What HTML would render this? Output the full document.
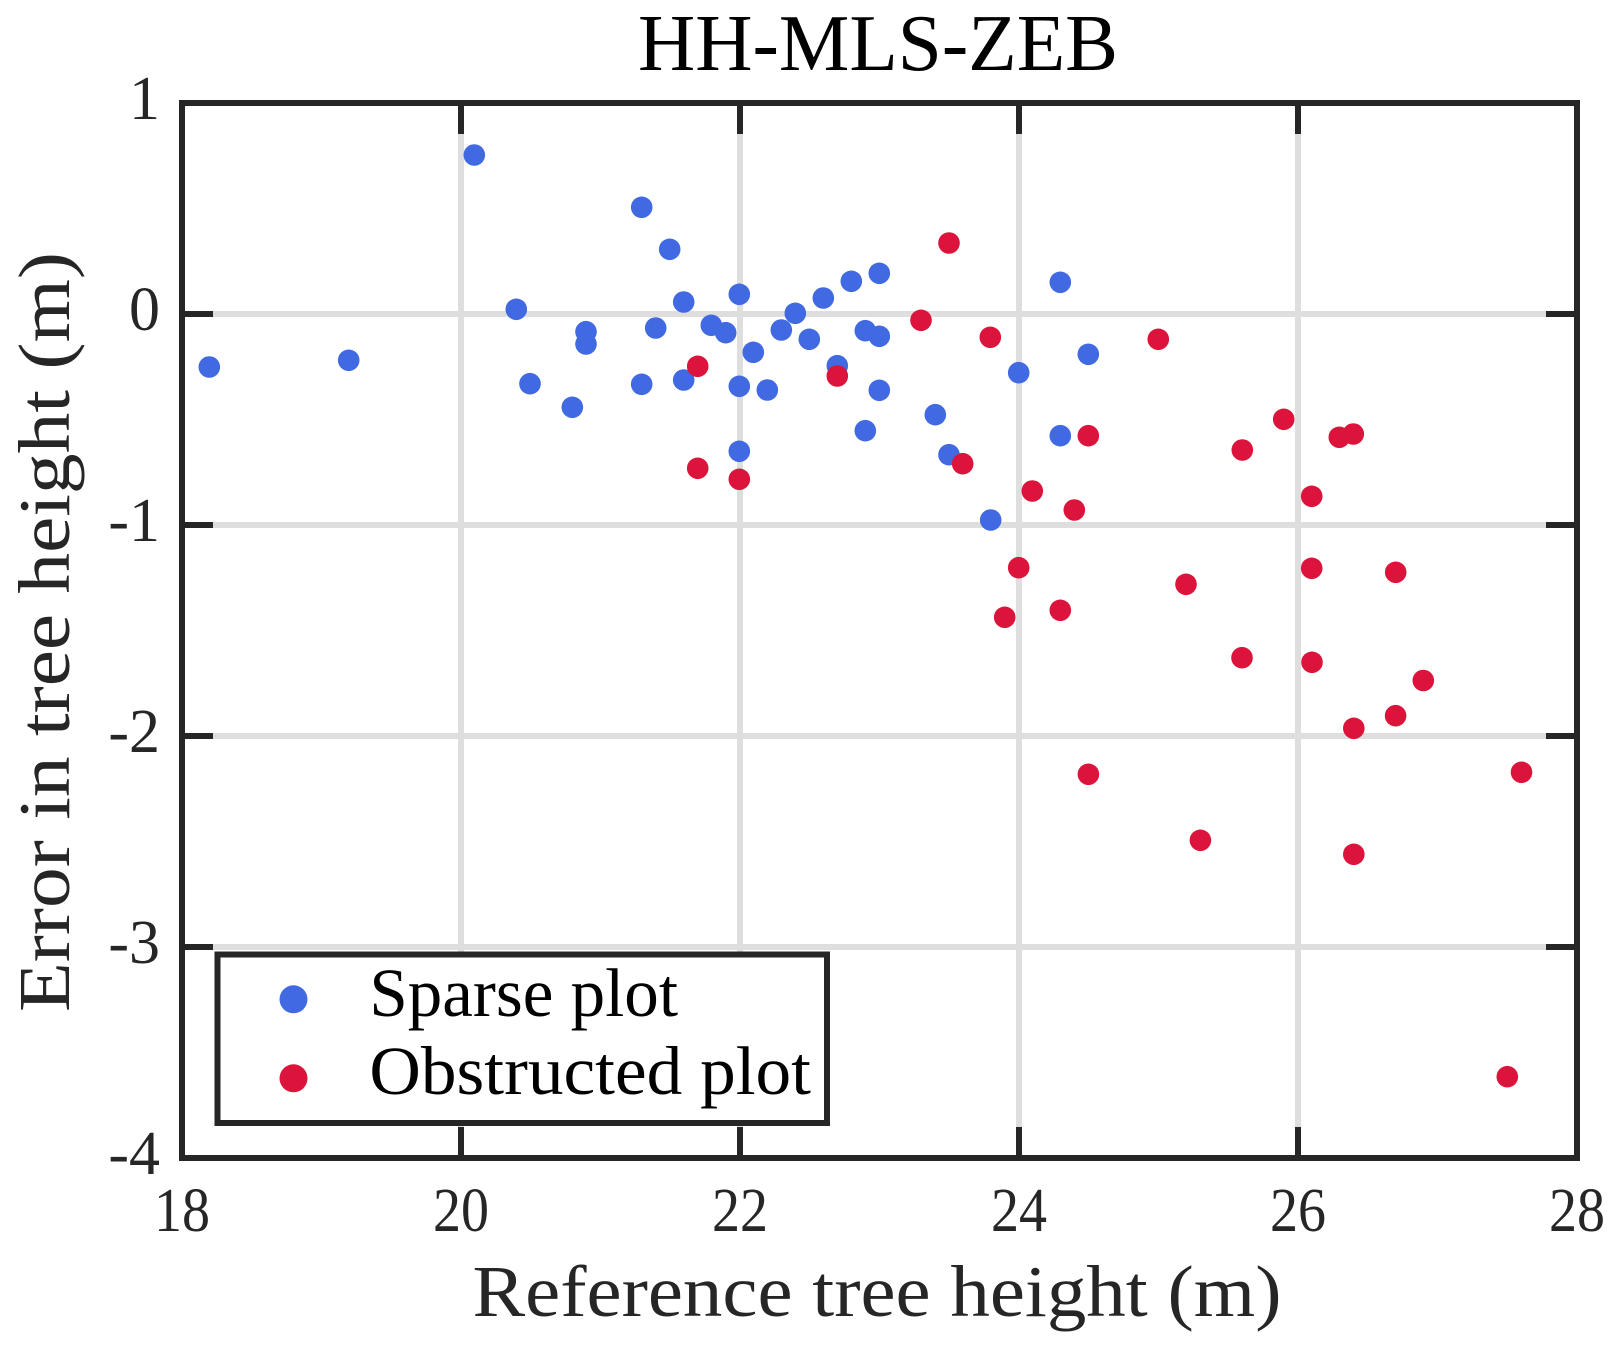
<!DOCTYPE html>
<html>
<head>
<meta charset="utf-8">
<style>
html,body{margin:0;padding:0;background:#fff;}
svg{display:block;}
text{font-family:"Liberation Serif","DejaVu Serif",serif;fill:#262626;}
</style>
</head>
<body>
<svg width="1618" height="1350" viewBox="0 0 1618 1350" xmlns="http://www.w3.org/2000/svg">
<rect x="0" y="0" width="1618" height="1350" fill="#fff"/>
<!-- grid -->
<g stroke="#dedede" stroke-width="6">
<line x1="461" y1="103" x2="461" y2="1158"/>
<line x1="740" y1="103" x2="740" y2="1158"/>
<line x1="1019" y1="103" x2="1019" y2="1158"/>
<line x1="1298" y1="103" x2="1298" y2="1158"/>
<line x1="182" y1="314" x2="1577" y2="314"/>
<line x1="182" y1="525" x2="1577" y2="525"/>
<line x1="182" y1="736" x2="1577" y2="736"/>
<line x1="182" y1="947" x2="1577" y2="947"/>
</g>
<!-- ticks -->
<g stroke="#262626" stroke-width="6">
<line x1="461" y1="103" x2="461" y2="134"/><line x1="740" y1="103" x2="740" y2="134"/><line x1="1019" y1="103" x2="1019" y2="134"/><line x1="1298" y1="103" x2="1298" y2="134"/>
<line x1="461" y1="1158" x2="461" y2="1127"/><line x1="740" y1="1158" x2="740" y2="1127"/><line x1="1019" y1="1158" x2="1019" y2="1127"/><line x1="1298" y1="1158" x2="1298" y2="1127"/>
<line x1="182" y1="314" x2="213" y2="314"/><line x1="182" y1="525" x2="213" y2="525"/><line x1="182" y1="736" x2="213" y2="736"/><line x1="182" y1="947" x2="213" y2="947"/>
<line x1="1577" y1="314" x2="1546" y2="314"/><line x1="1577" y1="525" x2="1546" y2="525"/><line x1="1577" y1="736" x2="1546" y2="736"/><line x1="1577" y1="947" x2="1546" y2="947"/>
</g>
<!-- blue -->
<g fill="#4169e1">
<circle cx="209.3" cy="367" r="10.8"/><circle cx="348.7" cy="360.3" r="10.8"/><circle cx="474.3" cy="155" r="10.8"/><circle cx="516.3" cy="309.3" r="10.8"/>
<circle cx="586" cy="331.7" r="10.8"/><circle cx="586" cy="344" r="10.8"/><circle cx="530" cy="383.7" r="10.8"/><circle cx="572.3" cy="407.3" r="10.8"/>
<circle cx="641.7" cy="207.3" r="10.8"/><circle cx="669.7" cy="249.3" r="10.8"/><circle cx="683.7" cy="302" r="10.8"/><circle cx="739.3" cy="294.3" r="10.8"/>
<circle cx="655.7" cy="328" r="10.8"/><circle cx="711.3" cy="325.3" r="10.8"/><circle cx="725.7" cy="332.7" r="10.8"/><circle cx="753.3" cy="352.3" r="10.8"/>
<circle cx="781.3" cy="330" r="10.8"/><circle cx="795.3" cy="313.3" r="10.8"/><circle cx="809.3" cy="339.3" r="10.8"/><circle cx="823.3" cy="298" r="10.8"/>
<circle cx="851.3" cy="281.3" r="10.8"/><circle cx="879.3" cy="273.3" r="10.8"/><circle cx="865.3" cy="330.7" r="10.8"/><circle cx="879.3" cy="336.3" r="10.8"/>
<circle cx="837.3" cy="365.7" r="10.8"/><circle cx="641.7" cy="384.3" r="10.8"/><circle cx="683.7" cy="380" r="10.8"/><circle cx="739.3" cy="386.3" r="10.8"/>
<circle cx="767.3" cy="390" r="10.8"/><circle cx="879.3" cy="390.3" r="10.8"/><circle cx="935.3" cy="414.7" r="10.8"/><circle cx="865.3" cy="430.7" r="10.8"/>
<circle cx="949" cy="454.7" r="10.8"/><circle cx="739.3" cy="451.3" r="10.8"/>
<circle cx="1060.3" cy="282.3" r="10.8"/><circle cx="1088.3" cy="354.3" r="10.8"/><circle cx="1018.7" cy="372.7" r="10.8"/><circle cx="1060.3" cy="435.7" r="10.8"/><circle cx="990.7" cy="520" r="10.8"/>
</g>
<!-- red -->
<g fill="#dc143c">
<circle cx="697.7" cy="366.3" r="10.8"/><circle cx="837.3" cy="376" r="10.8"/><circle cx="697.7" cy="468.3" r="10.8"/><circle cx="739.3" cy="479.3" r="10.8"/>
<circle cx="962.7" cy="463.7" r="10.8"/><circle cx="949" cy="243" r="10.8"/><circle cx="921" cy="320.3" r="10.8"/><circle cx="990.3" cy="337.3" r="10.8"/>
<circle cx="1158.3" cy="339.3" r="10.8"/><circle cx="1088.3" cy="435.7" r="10.8"/><circle cx="1032.3" cy="491" r="10.8"/><circle cx="1074.3" cy="510" r="10.8"/>
<circle cx="1283.7" cy="419.3" r="10.8"/><circle cx="1242.3" cy="450" r="10.8"/><circle cx="1339.3" cy="437.3" r="10.8"/><circle cx="1353.3" cy="434" r="10.8"/>
<circle cx="1311.7" cy="496.3" r="10.8"/><circle cx="1018.7" cy="567.7" r="10.8"/><circle cx="1186" cy="584.3" r="10.8"/><circle cx="1311.7" cy="568.3" r="10.8"/>
<circle cx="1004.7" cy="617.3" r="10.8"/><circle cx="1060.3" cy="610.3" r="10.8"/>
<circle cx="1395.7" cy="572.3" r="10.8"/><circle cx="1242" cy="657.7" r="10.8"/><circle cx="1312" cy="662.3" r="10.8"/><circle cx="1423.3" cy="680.5" r="10.8"/>
<circle cx="1395.6" cy="715.7" r="10.8"/><circle cx="1353.8" cy="728.3" r="10.8"/><circle cx="1088.4" cy="774.3" r="10.8"/><circle cx="1521.5" cy="772.3" r="10.8"/>
<circle cx="1200.4" cy="840.3" r="10.8"/><circle cx="1353.8" cy="854.3" r="10.8"/><circle cx="1507.3" cy="1076.7" r="10.8"/>
</g>
<!-- axes box -->
<rect x="182" y="103" width="1395" height="1055" fill="none" stroke="#262626" stroke-width="6"/>
<!-- legend -->
<rect x="217.5" y="954.5" width="609.5" height="168.5" fill="#fff" stroke="#262626" stroke-width="6"/>
<circle cx="293.5" cy="999.3" r="14" fill="#4169e1"/>
<circle cx="293.5" cy="1078.3" r="14" fill="#dc143c"/>
<text x="369.4" y="1016" font-size="69" textLength="308.6" lengthAdjust="spacingAndGlyphs" style="fill:#000">Sparse plot</text>
<text x="369.4" y="1094" font-size="69" textLength="441.6" lengthAdjust="spacingAndGlyphs" style="fill:#000">Obstructed plot</text>
<!-- x tick labels -->
<g font-size="62" text-anchor="middle">
<text x="182" y="1231" textLength="56" lengthAdjust="spacingAndGlyphs">18</text>
<text x="461" y="1231" textLength="56" lengthAdjust="spacingAndGlyphs">20</text>
<text x="740" y="1231" textLength="56" lengthAdjust="spacingAndGlyphs">22</text>
<text x="1019" y="1231" textLength="56" lengthAdjust="spacingAndGlyphs">24</text>
<text x="1298" y="1231" textLength="56" lengthAdjust="spacingAndGlyphs">26</text>
<text x="1577" y="1231" textLength="56" lengthAdjust="spacingAndGlyphs">28</text>
</g>
<!-- y tick labels -->
<g font-size="62" text-anchor="end">
<text x="160" y="119">1</text>
<text x="160" y="330">0</text>
<text x="160" y="541">-1</text>
<text x="160" y="752">-2</text>
<text x="160" y="963">-3</text>
<text x="160" y="1174">-4</text>
</g>
<!-- axis labels -->
<text x="877" y="1316" font-size="73" text-anchor="middle" textLength="809" lengthAdjust="spacingAndGlyphs">Reference tree height (m)</text>
<text transform="translate(69,632) rotate(-90)" x="0" y="0" font-size="73" text-anchor="middle" textLength="760" lengthAdjust="spacingAndGlyphs">Error in tree height (m)</text>
<!-- title -->
<text x="878" y="70" font-size="81" text-anchor="middle" textLength="480" lengthAdjust="spacingAndGlyphs" style="fill:#000">HH-MLS-ZEB</text>
</svg>
</body>
</html>
